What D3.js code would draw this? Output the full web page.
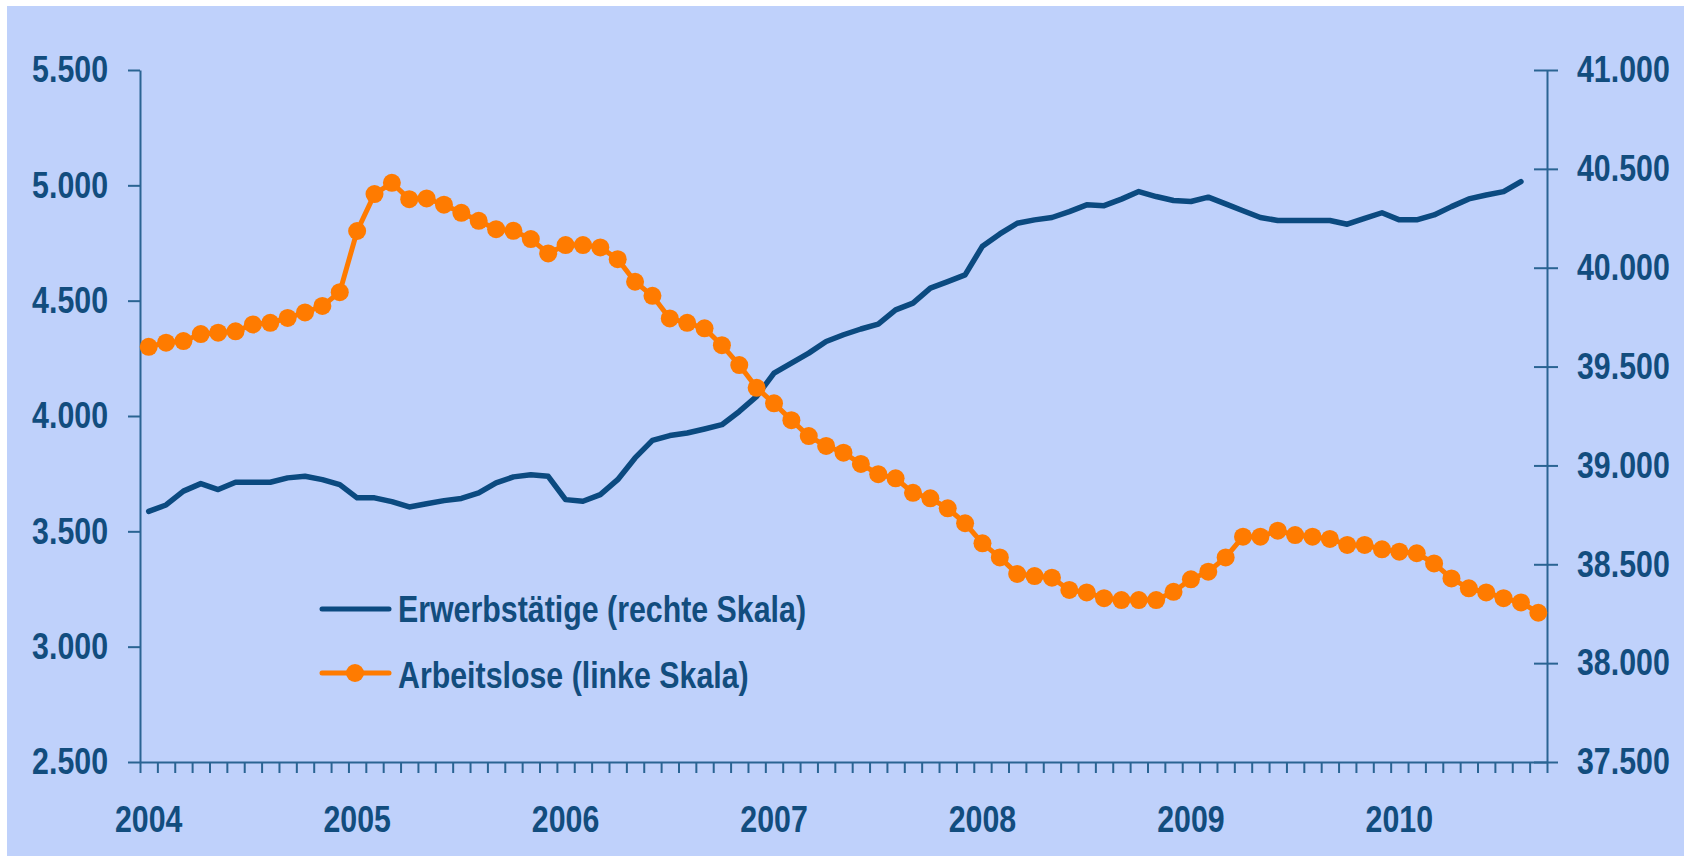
<!DOCTYPE html>
<html>
<head>
<meta charset="utf-8">
<script src="https://cdn.jsdelivr.net/npm/d3@7"></script>
<style>
  body { margin: 0; background: #ffffff; }
  svg text { font-family: "Liberation Sans", Arial, sans-serif; font-weight: bold; }
</style>
</head>
<body>
<div id="chart"></div>
<script>
var svgWidth = 1684;
var svgHeight = 859;

// plot area (left axis, right axis, top, x axis)
var plot = { left: 140, right: 1547, top: 70, bottom: 762 };

// categories: monthly, Jan 2004 .. Sep 2010
var yearLabels = ["2004", "2005", "2006", "2007", "2008", "2009", "2010"];
var monthCount = 81;
var months = [];
for (var i = 0; i < monthCount; i++) {
  var yr = 2004 + Math.floor(i / 12);
  var mo = (i % 12) + 1;
  months.push(yr + "-" + (mo < 10 ? "0" + mo : mo));
}

// Arbeitslose (linke Skala), Tsd.
var arbeitslose = [
  4300, 4318, 4325, 4355, 4361, 4367, 4397, 4404, 4425, 4449, 4477, 4537,
  4802, 4962, 5011, 4940, 4943, 4916, 4881, 4846, 4810, 4803, 4767, 4705,
  4741, 4741, 4731, 4680, 4582, 4521, 4423, 4404, 4380, 4307, 4221, 4122,
  4055, 3982, 3913, 3870, 3841, 3792, 3748, 3730, 3667, 3643, 3600, 3535,
  3448, 3387, 3315, 3306, 3299, 3246, 3235, 3210, 3202, 3202, 3202, 3238,
  3292, 3325, 3387, 3477, 3477, 3503, 3484, 3477, 3467, 3441, 3441, 3422,
  3412, 3405, 3361, 3296, 3253, 3235, 3210, 3192, 3147
];

// Erwerbstätige (rechte Skala), Tsd.
var erwerbstaetige = [
  38768, 38800, 38870, 38908, 38878, 38915, 38915, 38915, 38937, 38945, 38928, 38903,
  38836, 38836, 38817, 38790, 38806, 38822, 38833, 38861, 38912, 38942, 38953, 38945,
  38827, 38819, 38852, 38928, 39038, 39127, 39151, 39164, 39184, 39206, 39273, 39349,
  39467, 39518, 39568, 39627, 39661, 39690, 39715, 39787, 39821, 39897, 39930, 39964,
  40109, 40171, 40225, 40242, 40254, 40284, 40318, 40314, 40347, 40385, 40360, 40340,
  40335, 40357, 40323, 40288, 40254, 40239, 40239, 40239, 40239, 40220, 40250, 40278,
  40242, 40242, 40267, 40309, 40348, 40368, 40385, 40436
];

var leftTicks = [2500, 3000, 3500, 4000, 4500, 5000, 5500];
var rightTicks = [37500, 38000, 38500, 39000, 39500, 40000, 40500, 41000];

var textColor = "#124d7e";
var axisColor = "#2a6493";
var blueLine = "#0b4a80";
var orange = "#ff7b00";

var svg = d3.select("#chart")
  .append("svg")
  .attr("width", svgWidth)
  .attr("height", svgHeight);

// light blue panel
svg.append("rect")
  .attr("x", 7)
  .attr("y", 6)
  .attr("width", svgWidth - 7)
  .attr("height", 850)
  .attr("fill", "#bfd1fb");

// scales
var x = d3.scaleBand()
  .domain(months)
  .range([plot.left, plot.right])
  .padding(0);

var xCenter = function(i) { return x(months[i]) + x.bandwidth() / 2; };

var yLeft = d3.scaleLinear()
  .domain([2500, 5500])
  .range([plot.bottom, plot.top]);

var yRight = d3.scaleLinear()
  .domain([37500, 41000])
  .range([plot.bottom, plot.top]);

var fmt = function(d) { return d3.format(",")(d).replace(",", "."); };

// no narrow font installed: squeeze the glyphs like Arial Narrow,
// keeping the anchor point where it is
var squeeze = 0.82;
function narrow(sel) {
  sel.each(function() {
    var ax = +(this.getAttribute("x") || 0);
    d3.select(this)
      .attr("transform", `translate(${ax * (1 - squeeze)}, 0) scale(${squeeze}, 1)`);
  });
}

function styleAxis(g) {
  g.select(".domain").attr("stroke", axisColor).attr("stroke-width", 2);
  g.selectAll(".tick line").attr("stroke", axisColor).attr("stroke-width", 2);
  g.selectAll(".tick text")
    .attr("fill", textColor)
    .attr("font-family", null)
    .attr("font-size", null)
    .style("font-size", "37px")
    .call(narrow);
}

// x axis: monthly tick marks on category borders
var xBorders = d3.scaleLinear()
  .domain([0, monthCount])
  .range([plot.left, plot.right]);

var xAxisTicks = svg.append("g")
  .attr("transform", `translate(0, ${plot.bottom})`)
  .call(d3.axisBottom(xBorders)
    .tickValues(d3.range(monthCount + 1))
    .tickFormat("")
    .tickSize(11)
    .tickSizeOuter(0));
xAxisTicks.selectAll(".tick text").remove();
styleAxis(xAxisTicks);

// x axis: year labels centred on January
var xAxisLabels = svg.append("g")
  .attr("transform", `translate(0, ${plot.bottom})`)
  .call(d3.axisBottom(x)
    .tickValues(yearLabels.map(function(y) { return y + "-01"; }))
    .tickFormat(function(m) { return m.slice(0, 4); })
    .tickSize(0)
    .tickPadding(44));
xAxisLabels.select(".domain").remove();
styleAxis(xAxisLabels);

// left axis
var leftAxis = svg.append("g")
  .attr("transform", `translate(${plot.left}, 0)`)
  .call(d3.axisLeft(yLeft)
    .tickValues(leftTicks)
    .tickFormat(fmt)
    .tickSize(12)
    .tickSizeOuter(0)
    .tickPadding(20));
styleAxis(leftAxis);

// right axis, ticks cross the line
var rightAxis = svg.append("g")
  .attr("transform", `translate(${plot.right}, 0)`)
  .call(d3.axisRight(yRight)
    .tickValues(rightTicks)
    .tickFormat(fmt)
    .tickSize(11)
    .tickSizeOuter(0)
    .tickPadding(19));
styleAxis(rightAxis);
rightAxis.selectAll(".tick line").attr("x1", -13);

// Erwerbstätige line
var lineRight = d3.line()
  .x(function(d, i) { return xCenter(i); })
  .y(function(d) { return yRight(d); });

svg.append("path")
  .datum(erwerbstaetige)
  .attr("d", lineRight)
  .attr("fill", "none")
  .attr("stroke", blueLine)
  .attr("stroke-width", 5.5)
  .attr("stroke-linejoin", "round")
  .attr("stroke-linecap", "round");

// Arbeitslose line + markers
var lineLeft = d3.line()
  .x(function(d, i) { return xCenter(i); })
  .y(function(d) { return yLeft(d); });

svg.append("path")
  .datum(arbeitslose)
  .attr("d", lineLeft)
  .attr("fill", "none")
  .attr("stroke", orange)
  .attr("stroke-width", 5)
  .attr("stroke-linejoin", "round");

svg.append("g")
  .selectAll("circle")
  .data(arbeitslose)
  .enter()
  .append("circle")
  .attr("cx", function(d, i) { return xCenter(i); })
  .attr("cy", function(d) { return yLeft(d); })
  .attr("r", 9)
  .attr("fill", orange);

// legend
var legend = svg.append("g");

legend.append("line")
  .attr("x1", 322).attr("x2", 389)
  .attr("y1", 609).attr("y2", 609)
  .attr("stroke", blueLine)
  .attr("stroke-width", 5)
  .attr("stroke-linecap", "round");

legend.append("text")
  .attr("x", 398)
  .attr("y", 622)
  .attr("fill", textColor)
  .style("font-size", "37px")
  .text("Erwerbstätige (rechte Skala)")
  .call(narrow);

legend.append("line")
  .attr("x1", 322).attr("x2", 389)
  .attr("y1", 673).attr("y2", 673)
  .attr("stroke", orange)
  .attr("stroke-width", 5)
  .attr("stroke-linecap", "round");

legend.append("circle")
  .attr("cx", 355)
  .attr("cy", 673)
  .attr("r", 9)
  .attr("fill", orange);

legend.append("text")
  .attr("x", 398)
  .attr("y", 688)
  .attr("fill", textColor)
  .style("font-size", "37px")
  .text("Arbeitslose (linke Skala)")
  .call(narrow);
</script>
</body>
</html>
